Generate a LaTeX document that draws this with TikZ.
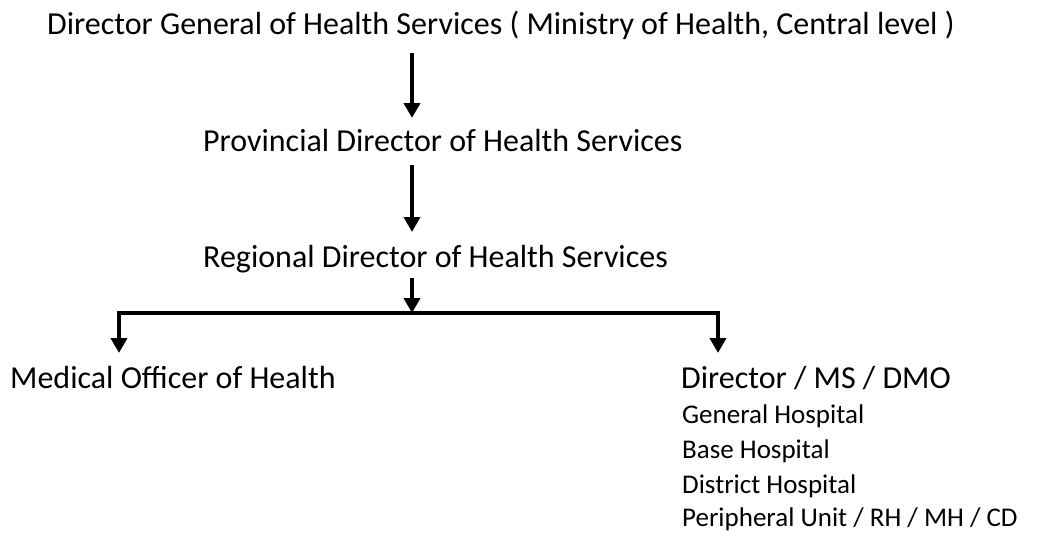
\documentclass[tikz,border=0pt]{standalone}
\usepackage{fontspec}
\setmainfont{Carlito}
\usetikzlibrary{arrows.meta}
\begin{document}
\begin{tikzpicture}[x=1pt,y=-1pt,
  big/.style={inner sep=0pt,anchor=base west,font=\fontsize{32}{38}\selectfont},
  small/.style={inner sep=0pt,anchor=base west,font=\fontsize{27}{32}\selectfont},
  conn/.style={line width=4.5pt},
  arr/.style={conn,-{Triangle[length=15pt,width=16pt]}}]
\useasboundingbox (0,0) rectangle (1049,533);
\node[big] (dg) at (47,34) {Director General of Health Services ( Ministry of Health, Central level )};
\node[big] (pd) at (203,151) {Provincial Director of Health Services};
\node[big] (rd) at (203,267) {Regional Director of Health Services};
\node[big] (moh) at (10,388) {Medical Officer of Health};
\node[big] (dir) at (681,388) {Director / MS / DMO};
\node[small] (gh) at (682,423) {General Hospital};
\node[small] (bh) at (682,458) {Base Hospital};
\node[small] (dh) at (682,493) {District Hospital};
\node[small] (pu) at (682,526) {Peripheral Unit / RH / MH / CD};
\coordinate (a1s) at (412,53);
\coordinate (a1e) at (412,118);
\coordinate (a2s) at (412,165);
\coordinate (a2e) at (412,232);
\coordinate (a3s) at (412,278);
\coordinate (j) at (412,313);
\coordinate (l) at (119,313);
\coordinate (r) at (718,313);
\coordinate (le) at (119,353);
\coordinate (re) at (718,353);
\draw[arr] (a1s) -- (a1e);
\draw[arr] (a2s) -- (a2e);
\draw[arr] (a3s) -- (j);
\draw[conn] ([xshift=-2.25pt]l) -- ([xshift=2.25pt]r);
\draw[arr] ([yshift=-2.25pt]l) -- (le);
\draw[arr] ([yshift=-2.25pt]r) -- (re);
\end{tikzpicture}
\end{document}
